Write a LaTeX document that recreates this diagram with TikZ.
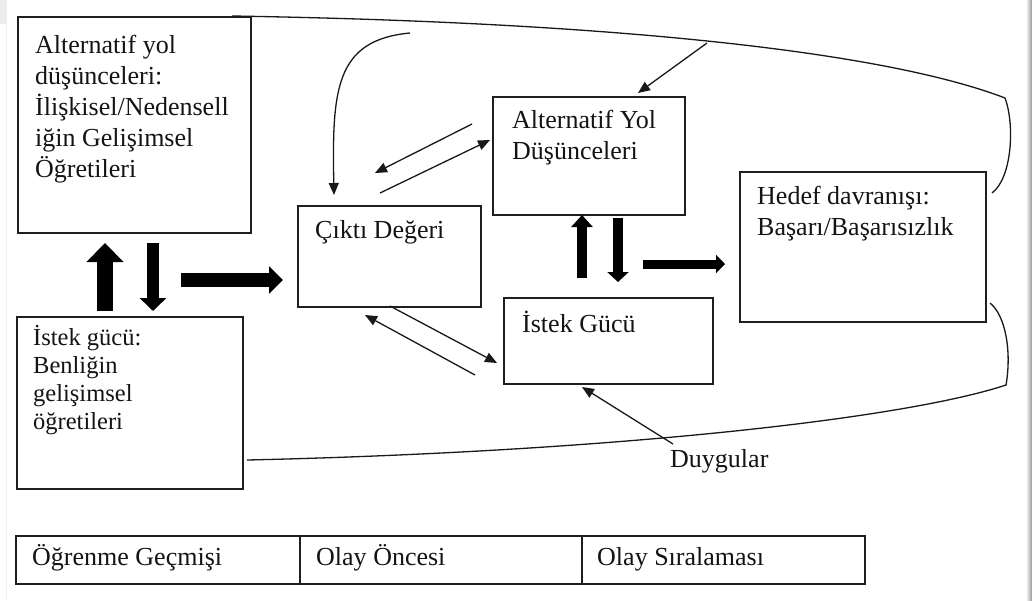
\documentclass[tikz,border=0pt]{standalone}
\usepackage{fontspec}
\setmainfont{Liberation Serif}
\usetikzlibrary{arrows.meta}
\begin{document}
\begin{tikzpicture}[x=1pt,y=-1pt,
  box/.style={draw=black!88, line width=1.8pt, inner sep=0pt, outer sep=0pt, anchor=north west},
  % multi-line labels sit on the baseline of their last line
  lbl/.style={inner sep=0pt, anchor=base west, align=left, text=black!92,
              font=\fontsize{26pt}{31pt}\selectfont},
  lblsmall/.style={lbl, font=\fontsize{24.5pt}{28pt}\selectfont},
  link/.style={draw=black!90, line width=1.3pt},
  thin/.style={link, -{Triangle[length=12pt,width=10pt]}},
  fat/.style={draw=black, line cap=butt}
]
\useasboundingbox (0,0) rectangle (1032,600);
\fill[white] (0,0) rectangle (1032,600);
% page edge shading
\fill[black!7] (0,0) rectangle (7,24);
\draw[black!5, line width=1pt] (6.5,24) -- (6.5,600);
\shade[left color=black!8, right color=black!42] (1027,0) rectangle (1032,600);

% boxes
\node[box, minimum width=233pt, minimum height=216pt] (A) at (18,17) {};
\node[box, minimum width=183pt, minimum height=101pt] (C) at (298,206) {};
\node[box, minimum width=192pt, minimum height=118pt] (Y) at (493,97) {};
\node[box, minimum width=246pt, minimum height=150pt] (H) at (740,172) {};
\node[box, minimum width=226pt, minimum height=172pt] (B) at (17,317) {};
\node[box, minimum width=209pt, minimum height=86pt]  (G) at (504,298) {};

% box texts
\node[lbl] (Atxt) at (35,177) {Alternatif yol\\düşünceleri:\\İlişkisel/Nedensell\\iğin Gelişimsel\\Öğretileri};
\node[lbl] (Ctxt) at (315,238) {Çıktı Değeri};
\node[lbl] (Ytxt) at (512,159) {Alternatif Yol\\Düşünceleri};
\node[lbl] (Htxt) at (757,235) {Hedef davranışı:\\Başarı/Başarısızlık};
\node[lblsmall] (Btxt) at (33,429) {İstek gücü:\\Benliğin\\gelişimsel\\öğretileri};
\node[lbl] (Gtxt) at (522,332) {İstek Gücü};
\node[lbl] (Dtxt) at (670,467) {Duygular};

% bottom table
\node[box, minimum width=284pt, minimum height=48pt] (T1) at (16,536) {};
\node[box, minimum width=282pt, minimum height=48pt] (T2) at (300,536) {};
\node[box, minimum width=283pt, minimum height=48pt] (T3) at (582,536) {};
\node[lbl] (T1txt) at (32,565) {Öğrenme Geçmişi};
\node[lbl] (T2txt) at (316,565) {Olay Öncesi};
\node[lbl] (T3txt) at (597,565) {Olay Sıralaması};

% enclosing brace-like curves
\coordinate (topS) at (232,16);
\coordinate (topM) at (1005,98);
\coordinate (topE) at (992,193);
\draw[link] (topS) .. controls (600,22) and (880,50) .. (topM)
                   .. controls (1015,125) and (1012,178) .. (topE);
\coordinate (botS) at (247,460);
\coordinate (botM) at (1006,385);
\coordinate (botE) at (990,303);
\draw[link] (botS) .. controls (600,452) and (900,420) .. (botM)
                   .. controls (1012,350) and (1005,315) .. (botE);

% thin arrows
\coordinate (c1s) at (410,33);
\coordinate (c1e) at (334,195);
\draw[thin] (c1s) .. controls (335,40) and (332,90) .. (c1e);
\coordinate (a1s) at (707,43);  \coordinate (a1e) at (638,93);
\draw[thin] (a1s) -- (a1e);
\coordinate (a2s) at (472,124); \coordinate (a2e) at (375,173);
\draw[thin] (a2s) -- (a2e);
\coordinate (a3s) at (380,193); \coordinate (a3e) at (490,140);
\draw[thin] (a3s) -- (a3e);
\coordinate (a4s) at (390,306); \coordinate (a4e) at (497,363);
\draw[thin] (a4s) -- (a4e);
\coordinate (a5s) at (475,375); \coordinate (a5e) at (365,315);
\draw[thin] (a5s) -- (a5e);
\coordinate (a6s) at (673,444); \coordinate (a6e) at (582,387);
\draw[thin] (a6s) -- (a6e);

% block arrows, left group
\coordinate (u1s) at (105,311); \coordinate (u1e) at (105,243);
\draw[fat, line width=16pt, -{Triangle[length=19pt,width=36pt]}] (u1s) -- (u1e);
\coordinate (d1s) at (153,243); \coordinate (d1e) at (153,311);
\draw[fat, line width=12pt, -{Triangle[length=13pt,width=26pt]}] (d1s) -- (d1e);
\coordinate (r1s) at (181,280); \coordinate (r1e) at (283,280);
\draw[fat, line width=14pt, -{Triangle[length=14pt,width=27pt]}] (r1s) -- (r1e);

% block arrows, right group
\coordinate (u2s) at (582,278); \coordinate (u2e) at (582,215);
\draw[fat, line width=10pt, -{Triangle[length=12pt,width=21pt]}] (u2s) -- (u2e);
\coordinate (d2s) at (618,218); \coordinate (d2e) at (618,282);
\draw[fat, line width=10pt, -{Triangle[length=10pt,width=21pt]}] (d2s) -- (d2e);
\coordinate (r2s) at (643,264); \coordinate (r2e) at (725,264);
\draw[fat, line width=9pt, -{Triangle[length=9pt,width=18pt]}] (r2s) -- (r2e);
\end{tikzpicture}
\end{document}
